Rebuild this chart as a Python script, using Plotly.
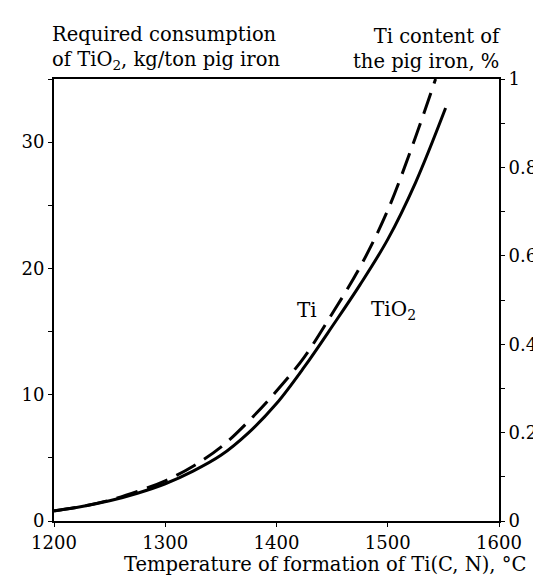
import plotly.graph_objects as go

FONT = "DejaVu Serif, Liberation Serif, serif"
INK = "#000"

# TiO2 consumption, kg/ton pig iron (left axis)
tio2_temp = [1200, 1225, 1250, 1275, 1300, 1325, 1350, 1375, 1400, 1425, 1450, 1475, 1500, 1525, 1552]
tio2_val = [0.8, 1.15, 1.6, 2.2, 2.95, 3.95, 5.2, 7.0, 9.3, 12.2, 15.4, 18.7, 22.3, 26.8, 32.7]

# Ti content of pig iron, % (right axis)
ti_temp = [1200, 1225, 1250, 1275, 1300, 1325, 1350, 1375, 1400, 1425, 1450, 1475, 1500, 1525, 1543]
ti_val = [0.023, 0.033, 0.047, 0.067, 0.091, 0.124, 0.167, 0.226, 0.294, 0.371, 0.469, 0.574, 0.703, 0.869, 1.0]

x_ticks = [1200, 1300, 1400, 1500, 1600]

fig = go.Figure()
fig.add_trace(go.Scatter(
    x=tio2_temp, y=tio2_val, mode="lines", name="TiO2",
    line=dict(color=INK, width=3, shape="spline", smoothing=1.0),
))
fig.add_trace(go.Scatter(
    x=ti_temp, y=ti_val, mode="lines", name="Ti", yaxis="y2",
    line=dict(color=INK, width=3, shape="spline", smoothing=1.0, dash="22px,10px"),
))

fig.add_annotation(x=1427, y=0.477, yref="y2", text="Ti", showarrow=False,
                   font=dict(size=20, family=FONT, color=INK))
fig.add_annotation(x=1505, y=0.477, yref="y2", text="TiO<sub>2</sub>", showarrow=False,
                   font=dict(size=20, family=FONT, color=INK))

# axis titles placed like the original figure
fig.add_annotation(x=-0.008, y=1.0, xref="paper", yref="paper", yshift=4,
                   xanchor="left", yanchor="bottom", align="left", showarrow=False,
                   text="Required consumption<br>of TiO<sub>2</sub>, kg/ton pig iron",
                   font=dict(size=19.5, family=FONT, color=INK))
fig.add_annotation(x=1.01, y=1.0, xref="paper", yref="paper", yshift=4,
                   xanchor="right", yanchor="bottom", align="right", showarrow=False,
                   text="Ti content of<br>the pig iron, %",
                   font=dict(size=19.5, family=FONT, color=INK))
fig.add_annotation(x=1.065, y=0, xref="paper", yref="paper", yshift=-30,
                   xanchor="right", yanchor="top", showarrow=False,
                   text="Temperature of formation of Ti(C, N), °C",
                   font=dict(size=19.5, family=FONT, color=INK))

axis_common = dict(showgrid=False, zeroline=False, showline=True, linecolor=INK,
                   linewidth=2, ticks="outside", ticklen=4, tickcolor=INK,
                   tickfont=dict(size=18, family=FONT, color=INK))

fig.update_layout(
    width=541, height=581,
    margin=dict(l=46, r=46, t=71, b=68),
    plot_bgcolor="#fff", paper_bgcolor="#fff",
    showlegend=False,
    xaxis=dict(range=[1200, 1600], tickvals=x_ticks, mirror=True, **axis_common),
    yaxis=dict(range=[0, 35], dtick=10, tick0=0,
               minor=dict(dtick=5, ticks="outside", ticklen=4, tickcolor=INK),
               **axis_common),
    yaxis2=dict(range=[0, 1], dtick=0.2, tick0=0, overlaying="y", side="right",
                minor=dict(dtick=0.1, ticks="outside", ticklen=4, tickcolor=INK),
                **axis_common),
)

fig.write_html("out.html")
